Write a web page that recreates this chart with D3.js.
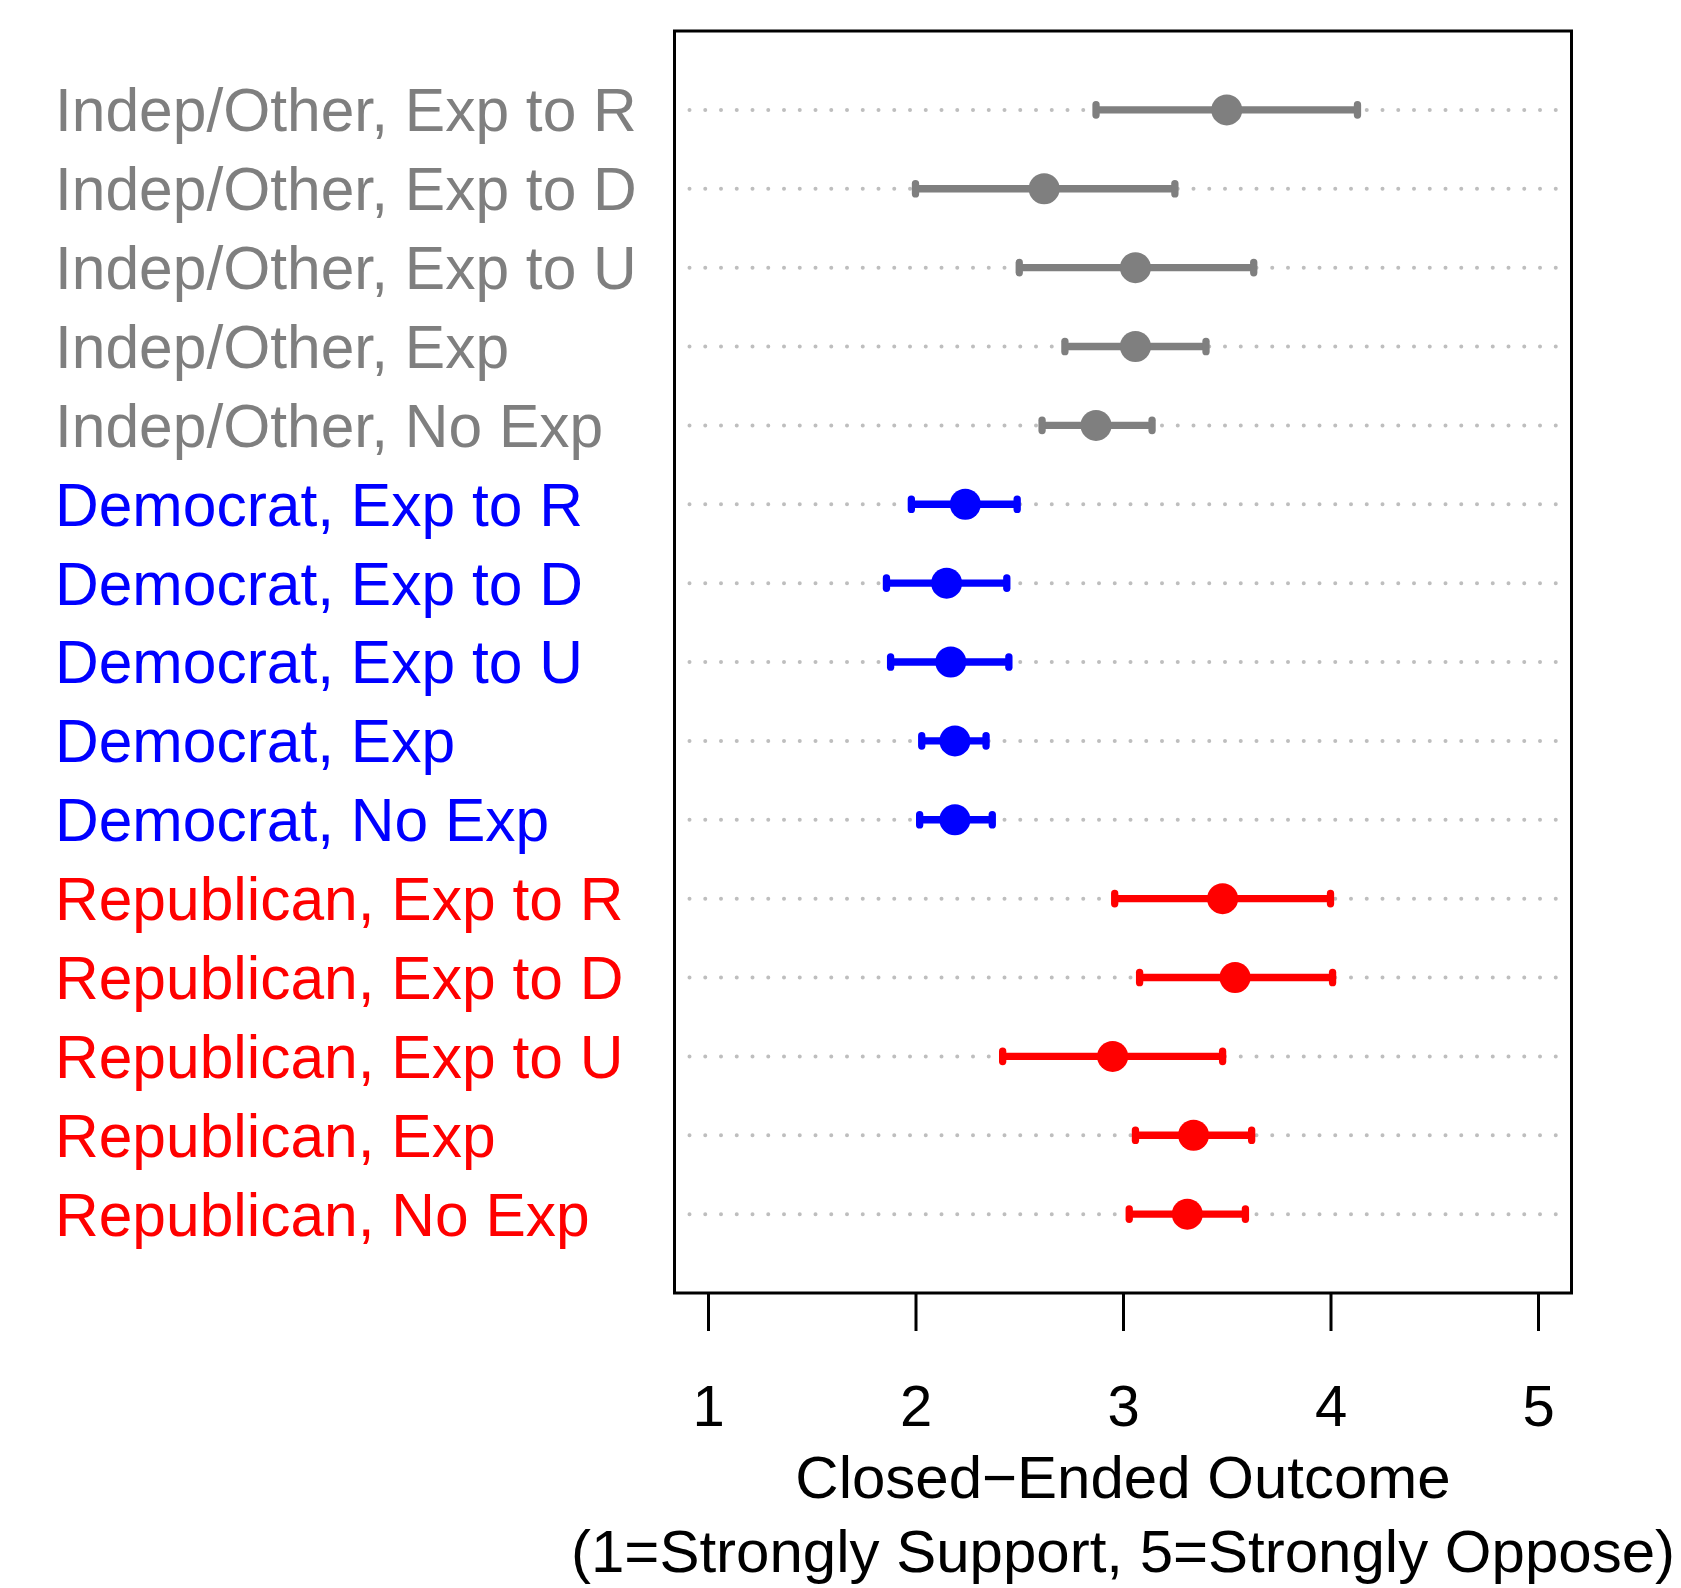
<!DOCTYPE html>
<html lang="en">
<head>
<meta charset="UTF-8">
<script src="https://cdn.jsdelivr.net/npm/d3@7"></script>
<style>
    body { margin: 0; background: #fff; }
    text { font-family: "Liberation Sans", Arial, Helvetica, sans-serif; }
</style>
</head>
<body>
<div id="fig"></div>
<script>

// rows, top to bottom
const parties = ["Indep/Other", "Democrat", "Republican"];
const conditions = ["Exp to R", "Exp to D", "Exp to U", "Exp", "No Exp"];
const estimates = [3.50, 2.62, 3.06, 3.06, 2.87,
                   2.24, 2.15, 2.17, 2.19, 2.19,
                   3.48, 3.54, 2.95, 3.34, 3.31];
const lower     = [2.87, 2.00, 2.50, 2.72, 2.61,
                   1.98, 1.86, 1.88, 2.03, 2.02,
                   2.96, 3.08, 2.42, 3.06, 3.03];
const upper     = [4.13, 3.25, 3.63, 3.40, 3.14,
                   2.49, 2.44, 2.45, 2.34, 2.37,
                   4.00, 4.01, 3.48, 3.62, 3.59];
const xTicks = [1, 2, 3, 4, 5];
const xTitle = ["Closed\u2212Ended Outcome", "(1=Strongly Support, 5=Strongly Oppose)"];

const partyColor = {"Indep/Other": "#7f7f7f", "Democrat": "#0000ff", "Republican": "#ff0000"};

const width = 1681, height = 1588;
const fontSize = 60;

const rows = [];
parties.forEach(p => conditions.forEach(c => rows.push({party: p, label: p + ", " + c})));
rows.forEach((d, i) => {
    d.pos = rows.length - i;
    d.est = estimates[i];
    d.lo = lower[i];
    d.hi = upper[i];
});

const x = d3.scaleLinear().domain([1, 5]).range([708, 1538]);
const y = d3.scaleLinear().domain([0, 16]).range([1293, 31]);
const xMin = x.invert(674.5), xMax = x.invert(1571.5);

const svg = d3.select("#fig")
    .append("svg")
    .attr("width", width)
    .attr("height", height);

svg.append("rect")
    .attr("width", width)
    .attr("height", height)
    .attr("fill", "#fff");

// dotted guide lines
svg.selectAll(".guide")
    .data(rows)
    .join("line")
    .attr("class", "guide")
    .attr("x1", x(xMin) + 15)
    .attr("x2", x(xMax) - 12)
    .attr("y1", d => y(d.pos))
    .attr("y2", d => y(d.pos))
    .attr("stroke", "#bebebe")
    .attr("stroke-width", 4)
    .attr("stroke-linecap", "round")
    .attr("stroke-dasharray", "0 15.75");

// intervals
svg.selectAll(".ci")
    .data(rows)
    .join("line")
    .attr("class", "ci")
    .attr("x1", d => x(d.lo))
    .attr("x2", d => x(d.hi))
    .attr("y1", d => y(d.pos))
    .attr("y2", d => y(d.pos))
    .attr("stroke", d => partyColor[d.party])
    .attr("stroke-width", 7.3);

const caps = rows.flatMap(d => [{party: d.party, pos: d.pos, v: d.lo}, {party: d.party, pos: d.pos, v: d.hi}]);
svg.selectAll(".cap")
    .data(caps)
    .join("line")
    .attr("class", "cap")
    .attr("x1", d => x(d.v))
    .attr("x2", d => x(d.v))
    .attr("y1", d => y(d.pos) - 5.2)
    .attr("y2", d => y(d.pos) + 5.2)
    .attr("stroke", d => partyColor[d.party])
    .attr("stroke-width", 7.3)
    .attr("stroke-linecap", "round");

svg.selectAll(".pt")
    .data(rows)
    .join("circle")
    .attr("class", "pt")
    .attr("cx", d => x(d.est))
    .attr("cy", d => y(d.pos))
    .attr("r", 15.5)
    .attr("fill", d => partyColor[d.party]);

// box
svg.append("rect")
    .attr("x", x(xMin))
    .attr("y", y(16))
    .attr("width", x(xMax) - x(xMin))
    .attr("height", y(0) - y(16))
    .attr("fill", "none")
    .attr("stroke", "#000")
    .attr("stroke-width", 3);

// row labels
svg.selectAll(".lab")
    .data(rows)
    .join("text")
    .attr("class", "lab")
    .attr("x", 55)
    .attr("y", d => y(d.pos) + 0.358 * fontSize)
    .attr("fill", d => partyColor[d.party])
    .style("font-size", "60.5px")
    .text(d => d.label);

// x axis
const xAxis = svg.append("g")
    .attr("transform", `translate(0,${y(0)})`)
    .call(d3.axisBottom(x).tickValues(xTicks).tickSize(38).tickPadding(54).tickFormat(d3.format("d")));
xAxis.select(".domain").remove();
xAxis.selectAll(".tick line").attr("stroke", "#000").attr("stroke-width", 3);
xAxis.selectAll(".tick text")
    .attr("fill", "#000")
    .style("font-size", "58px")
    .style("font-family", "'Liberation Sans', Arial, Helvetica, sans-serif");

svg.selectAll(".xtitle")
    .data(xTitle)
    .join("text")
    .attr("class", "xtitle")
    .attr("x", (x(xMin) + x(xMax)) / 2)
    .attr("y", (d, i) => 1498 + i * 74)
    .attr("text-anchor", "middle")
    .attr("fill", "#000")
    .style("font-size", fontSize + "px")
    .text(d => d);

</script>
</body>
</html>
